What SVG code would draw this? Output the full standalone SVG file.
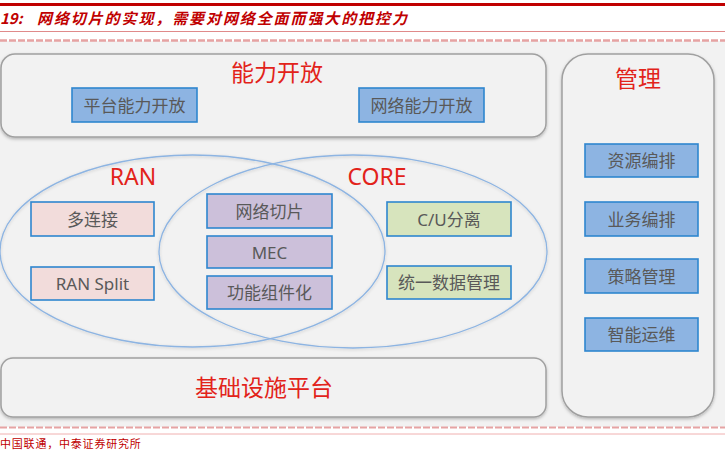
<svg xmlns="http://www.w3.org/2000/svg" width="725" height="451" viewBox="0 0 725 451">
<style>
.panel{fill:#F2F2F2;stroke:#A0A0A0;stroke-width:1.5}
.ell{fill:none;stroke:#8DB4E2;stroke-width:1.3}
.box{stroke:#2E86CF;stroke-width:1.6}
.blue{fill:#8DB4E2}
.pink{fill:#F2DCDB}
.purple{fill:#CCC0DA}
.green{fill:#D7E4BD}
.lbl{font-family:"Noto Sans","Noto Sans CJK SC",sans-serif;font-size:17px;fill:#595959;text-anchor:middle;dominant-baseline:central}
.ttl{font-family:"Noto Sans","Noto Sans CJK SC",sans-serif;font-size:23px;fill:#E2231A;text-anchor:middle}
</style>
<defs>
<filter id="sh" x="-10%" y="-10%" width="120%" height="130%">
<feDropShadow dx="0" dy="1.5" stdDeviation="1.5" flood-color="#000" flood-opacity="0.25"/>
</filter>
<filter id="esh" x="-10%" y="-10%" width="120%" height="120%">
<feDropShadow dx="0" dy="1" stdDeviation="1.5" flood-color="#000" flood-opacity="0.18"/>
</filter>
</defs>
<rect x="0" y="0" width="725" height="451" fill="#FFFFFF"/>
<rect x="0" y="41" width="725" height="386" fill="#F2F2F2"/>
<g id="header">
<line x1="0" y1="4.5" x2="725" y2="4.5" stroke="#C00000" stroke-width="3"/>
<text x="0" y="24" font-family="Noto Sans CJK SC,sans-serif" font-size="15" font-weight="bold" font-style="italic" fill="#C00000">19:</text>
<text x="37" y="24" font-family="Noto Sans CJK SC,sans-serif" font-size="15" font-weight="bold" font-style="italic" letter-spacing="1.9" fill="#C00000">网络切片的实现，需要对网络全面而强大的把控力</text>
<line x1="0" y1="31.5" x2="725" y2="31.5" stroke="#E08A8A" stroke-width="1"/>
<line x1="0" y1="40.5" x2="725" y2="40.5" stroke="#E6A3A3" stroke-width="2.5" stroke-dasharray="7,2"/>
</g>
<g id="panels" filter="url(#sh)">
<rect id="cap-panel" class="panel" x="1" y="54" width="545" height="83" rx="14"/>
<rect id="mgmt-panel" class="panel" x="562" y="54" width="152" height="363" rx="26"/>
<rect id="infra-panel" class="panel" x="1" y="358" width="545" height="59" rx="12"/>
</g>
<g id="ellipses" filter="url(#esh)">
<ellipse id="ran-ellipse" class="ell" cx="192.5" cy="251" rx="192.5" ry="96"/>
<ellipse id="core-ellipse" class="ell" cx="353" cy="251.5" rx="194" ry="96.5"/>
</g>
<g id="titles">
<text class="ttl" x="277" y="81">能力开放</text>
<text class="ttl" x="638" y="87">管理</text>
<text class="ttl" x="133" y="185" font-size="24">RAN</text>
<text class="ttl" x="377" y="185" font-size="24">CORE</text>
<text class="ttl" x="264" y="396">基础设施平台</text>
</g>
<g id="n-platform-open"><rect class="box blue" x="72" y="88" width="125" height="34"/><text class="lbl" x="134.5" y="105">平台能力开放</text></g>
<g id="n-network-open"><rect class="box blue" x="359" y="88" width="125" height="34"/><text class="lbl" x="421.5" y="105">网络能力开放</text></g>
<g id="n-resource"><rect class="box blue" x="585" y="144" width="113" height="33"/><text class="lbl" x="641.5" y="160.5">资源编排</text></g>
<g id="n-service"><rect class="box blue" x="585" y="202" width="113" height="34"/><text class="lbl" x="641.5" y="219">业务编排</text></g>
<g id="n-policy"><rect class="box blue" x="585" y="259" width="113" height="34"/><text class="lbl" x="641.5" y="276">策略管理</text></g>
<g id="n-aiops"><rect class="box blue" x="585" y="318" width="113" height="33"/><text class="lbl" x="641.5" y="334.5">智能运维</text></g>
<g id="n-multiconn"><rect class="box pink" x="31" y="202" width="123" height="34"/><text class="lbl" x="92.5" y="219">多连接</text></g>
<g id="n-ransplit"><rect class="box pink" x="31" y="267" width="123" height="33"/><text class="lbl" x="92.5" y="283.5">RAN Split</text></g>
<g id="n-slicing"><rect class="box purple" x="207" y="194" width="125" height="34"/><text class="lbl" x="269.5" y="211">网络切片</text></g>
<g id="n-mec"><rect class="box purple" x="207" y="236" width="125" height="32"/><text class="lbl" x="269.5" y="252">MEC</text></g>
<g id="n-component"><rect class="box purple" x="207" y="276" width="125" height="33"/><text class="lbl" x="269.5" y="292.5">功能组件化</text></g>
<g id="n-cu"><rect class="box green" x="387" y="202" width="124" height="34"/><text class="lbl" x="449" y="219">C/U分离</text></g>
<g id="n-udm"><rect class="box green" x="387" y="266" width="124" height="33"/><text class="lbl" x="449" y="282.5">统一数据管理</text></g>
<g id="connectors"></g>
<g id="footer">
<line x1="0" y1="427.5" x2="725" y2="427.5" stroke="#E6A3A3" stroke-width="2" stroke-dasharray="7,2"/>
<line x1="0" y1="434" x2="725" y2="434" stroke="#F0B0B0" stroke-width="1"/>
<text x="0" y="448" font-family="Noto Sans CJK SC,sans-serif" font-size="11" letter-spacing="0.8" fill="#C00000">中国联通，中泰证券研究所</text>
</g>
</svg>
